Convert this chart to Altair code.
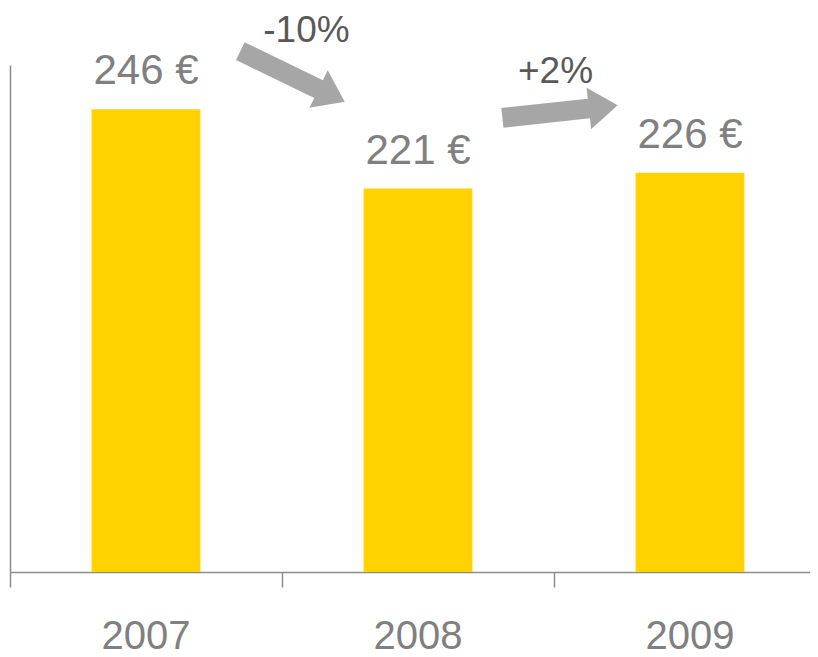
import altair as alt
import pandas as pd

# ---- data ----
years = ["2007", "2008", "2009"]
year_pos = [0, 1, 2]
values = [246, 221, 226]
value_labels = ["246 €", "221 €", "226 €"]

change_labels = ["-10%", "+2%"]
change_x = [1.090, 2.0055]
change_y = [267.2, 254.3]

arrow_x = [1.0386, 2.0221]
arrow_y = [256.4, 245.3]
arrow_angle = [25.9, 353.8]

# ---- styling ----
PLOT_W = 800
X_DOMAIN = [0, PLOT_W / 272]
Y_DOMAIN = [100, 260]
FONT = "Liberation Sans"
BAR_COLOR = "#FFD200"
AXIS_COLOR = "#8C8C8C"
LABEL_COLOR = "#808080"
CHANGE_COLOR = "#595959"
ARROW_COLOR = "#A6A6A6"
ARROW_PATH = "M -1 -0.17 L 0.5 -0.17 L 0.5 -0.36 L 1 0 L 0.5 0.36 L 0.5 0.17 L -1 0.17 Z"

bars_df = pd.DataFrame({"year": years, "pos": year_pos, "value": values, "label": value_labels})
change_df = pd.DataFrame({"label": change_labels, "x": change_x, "y": change_y})
arrow_df = pd.DataFrame({"x": arrow_x, "y": arrow_y, "angle": arrow_angle})

xscale = alt.Scale(domain=X_DOMAIN, nice=False, zero=False)
yscale = alt.Scale(domain=Y_DOMAIN, nice=False, zero=False)

x_axis = alt.Axis(values=[0, 1, 2], labels=False, grid=False, ticks=True, tickSize=15,
                  tickColor=AXIS_COLOR, tickWidth=1.5, domain=True,
                  domainColor=AXIS_COLOR, domainWidth=1.5, title=None)
y_axis = alt.Axis(labels=False, ticks=False, grid=False, domain=True,
                  domainColor=AXIS_COLOR, domainWidth=1.5, title=None)

base = alt.Chart(bars_df).transform_calculate(
    x0="datum.pos + 0.3", x1="datum.pos + 0.7", xc="datum.pos + 0.5"
)

bars = base.mark_bar(color=BAR_COLOR).encode(
    x=alt.X("x0:Q", scale=xscale, axis=x_axis),
    x2="x1:Q",
    y=alt.Y("value:Q", scale=yscale, axis=y_axis),
    y2=alt.datum(Y_DOMAIN[0]),
)

value_text = base.mark_text(font=FONT, fontSize=42, color=LABEL_COLOR, baseline="alphabetic",
                            align="center", dy=-25).encode(
    x=alt.X("xc:Q", scale=xscale, axis=x_axis),
    y=alt.Y("value:Q", scale=yscale, axis=y_axis),
    text="label:N",
)

year_text = base.mark_text(font=FONT, fontSize=40, color=LABEL_COLOR, baseline="alphabetic",
                           align="center", dy=77).encode(
    x=alt.X("xc:Q", scale=xscale, axis=x_axis),
    y=alt.datum(Y_DOMAIN[0]),
    text="year:N",
)

arrows = alt.Chart(arrow_df).mark_point(shape=ARROW_PATH, filled=True, size=13456,
                                         color=ARROW_COLOR, opacity=1, strokeWidth=0).encode(
    x=alt.X("x:Q", scale=xscale, axis=x_axis),
    y=alt.Y("y:Q", scale=yscale, axis=y_axis),
    angle=alt.Angle("angle:Q", scale=None),
)

change_text = alt.Chart(change_df).mark_text(font=FONT, fontSize=37, color=CHANGE_COLOR,
                                             baseline="alphabetic", align="center").encode(
    x=alt.X("x:Q", scale=xscale, axis=x_axis),
    y=alt.Y("y:Q", scale=yscale, axis=y_axis),
    text="label:N",
)

chart = alt.layer(bars, value_text, year_text, arrows, change_text).properties(
    width=PLOT_W,
    height=507,
    autosize=alt.AutoSizeParams(type="none"),
    padding={"left": 2, "top": 57, "right": 0, "bottom": 86},
    background="white",
).configure_view(stroke=None)

chart.save("out.html", embed_options={"renderer": "svg", "actions": False})
